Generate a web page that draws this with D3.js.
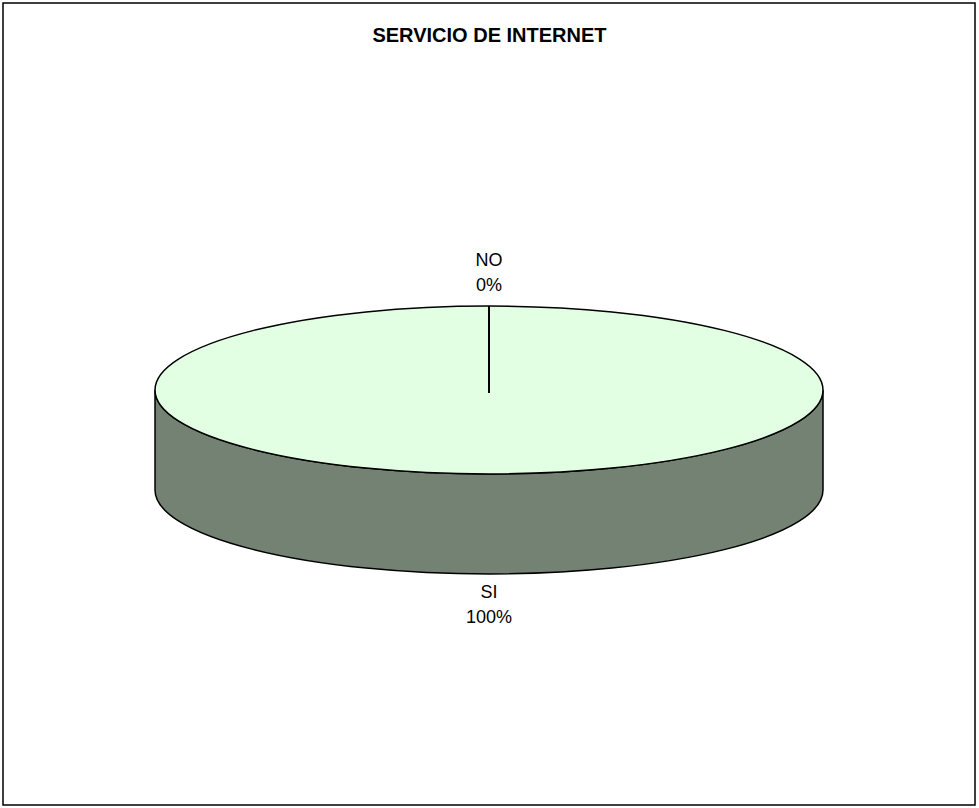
<!DOCTYPE html>
<html><head><meta charset="utf-8">
<script src="https://cdn.jsdelivr.net/npm/d3@7"></script>
<style>body{margin:0;background:#fff}svg{display:block}text{font-family:"Liberation Sans",Arial,sans-serif;fill:#000}</style>
</head><body>
<svg id="c" width="979" height="808"></svg>
<script>
const title = "SERVICIO DE INTERNET";
const categories = ["SI", "NO"];
const values = [100, 0];
const colors = ["#E3FFE3", "#738273"];

const svg = d3.select("#c");
svg.append("rect").attr("x",3).attr("y",3).attr("width",972).attr("height",802)
  .attr("fill","#fff").attr("stroke","#000").attr("stroke-width",1.5);
svg.append("text").attr("x",489.5).attr("y",42).attr("text-anchor","middle")
  .attr("font-weight","bold").attr("font-size",20).text(title);

const cx=489, cy=390, rx=334, ry=84, depth=100;
const total = d3.sum(values);
const pct = d3.scaleLinear().domain([0,total]).range([0,100]);
const pie = d3.pie().sort(null).value(d=>d.v);
const arcs = pie(categories.map((c,i)=>({c, v:values[i], i})));
const pt = (a, dy=0) => [cx + rx*Math.sin(a), cy - ry*Math.cos(a) + dy];

// side (front half, angles in [PI/2, 3PI/2])
arcs.forEach(d=>{
  const a0 = Math.max(d.startAngle, Math.PI/2), a1 = Math.min(d.endAngle, 3*Math.PI/2);
  if (a1 <= a0) return;
  const p0 = pt(a0), p1 = pt(a1), q1 = pt(a1, depth), q0 = pt(a0, depth);
  const path = `M${p0}A${rx},${ry} 0 0 1 ${p1}L${q1}A${rx},${ry} 0 0 0 ${q0}Z`;
  svg.append("path").attr("d",path).attr("fill",colors[1]).attr("stroke","#000").attr("stroke-width",1.5);
});
// top
arcs.forEach(d=>{
  const span = d.endAngle - d.startAngle;
  let path;
  if (span >= 2*Math.PI - 1e-6) {
    path = `M${cx-rx},${cy}A${rx},${ry} 0 1 1 ${cx+rx},${cy}A${rx},${ry} 0 1 1 ${cx-rx},${cy}Z`;
  } else if (span > 0) {
    const p0 = pt(d.startAngle), p1 = pt(d.endAngle);
    path = `M${cx},${cy}L${p0}A${rx},${ry} 0 ${span>Math.PI?1:0} 1 ${p1}Z`;
  } else return;
  svg.append("path").attr("d",path).attr("fill",colors[0]).attr("stroke","#000").attr("stroke-width",1.5);
});
// slice boundaries
arcs.forEach(d=>{
  const p = pt(d.startAngle);
  svg.append("line").attr("x1",cx).attr("y1",cy+3).attr("x2",p[0]).attr("y2",p[1])
    .attr("stroke","#000").attr("stroke-width",2);
});
// labels
arcs.forEach(d=>{
  const m = (d.startAngle + d.endAngle)/2;
  const below = Math.cos(m) < 0;
  const x = cx + (rx+10)*Math.sin(m);
  const y = below ? cy + ry + depth + 24 : cy - ry - 40;
  const t = svg.append("text").attr("text-anchor","middle").attr("font-size",18);
  t.append("tspan").attr("x",x).attr("y",y).text(d.data.c);
  t.append("tspan").attr("x",x).attr("y",y+25).text(Math.round(pct(d.data.v))+"%");
});
</script>
</body></html>
